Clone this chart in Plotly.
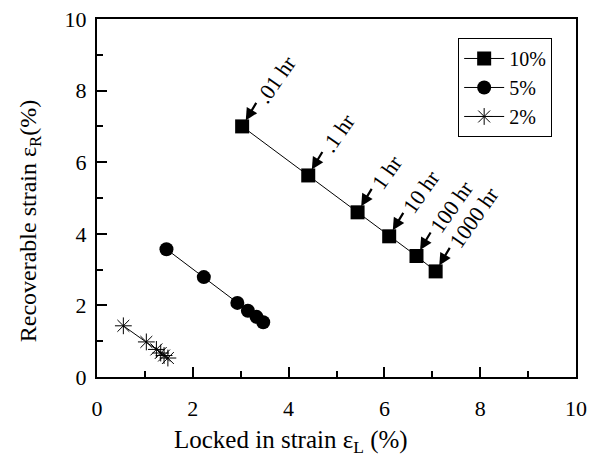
import plotly.graph_objects as go

# 10% series (squares)
x10 = [3.03, 4.41, 5.44, 6.10, 6.67, 7.07]
y10 = [7.00, 5.63, 4.60, 3.93, 3.38, 2.95]
time_labels = [".01 hr", ".1 hr", "1 hr", "10 hr", "100 hr", "1000 hr"]
# 5% series (circles)
x5 = [1.45, 2.23, 2.93, 3.15, 3.33, 3.47]
y5 = [3.57, 2.79, 2.07, 1.85, 1.68, 1.53]
# 2% series (stars)
x2 = [0.55, 1.03, 1.24, 1.33, 1.40, 1.48]
y2 = [1.43, 0.98, 0.77, 0.67, 0.60, 0.53]

x_title = "Locked in strain ε<sub>L</sub> (%)"
y_title = "Recoverable strain ε<sub>R</sub>(%)"

FONT = "Liberation Serif, Times New Roman, serif"
ANN_SIZE = 22
CHAR_EM = {".": 0.25, "0": 0.5, "1": 0.5, " ": 0.25, "h": 0.5, "r": 0.333}

fig = go.Figure()
fig.add_trace(go.Scatter(x=x10, y=y10, mode="lines+markers", name="10%",
                         line=dict(color="black", width=1),
                         marker=dict(symbol="square", size=14, color="black")))
fig.add_trace(go.Scatter(x=x5, y=y5, mode="lines+markers", name="5%",
                         line=dict(color="black", width=1),
                         marker=dict(symbol="circle", size=14, color="black")))
fig.add_trace(go.Scatter(x=x2, y=y2, mode="lines+markers", name="2%",
                         line=dict(color="black", width=1),
                         marker=dict(symbol="asterisk-open", size=14, color="black",
                                     line=dict(color="black", width=1))))

for xv, yv, lab in zip(x10, y10, time_labels):
    fig.add_annotation(x=xv, y=yv, xref="x", yref="y", text="",
                       showarrow=True, arrowhead=2, arrowsize=1.1, arrowwidth=2.2,
                       arrowcolor="black", ax=15, ay=-25, standoff=7)
    L = sum(CHAR_EM.get(c, 0.5) for c in lab) * ANN_SIZE
    fig.add_annotation(x=xv, y=yv, xref="x", yref="y", text=lab,
                       showarrow=False, textangle=-55, xanchor="center", yanchor="middle",
                       xshift=19 + 0.287 * L, yshift=26 + 0.41 * L,
                       font=dict(family=FONT, size=ANN_SIZE, color="black"))

# axis titles as annotations (offset along the axis, as in the reference)
fig.add_annotation(x=0.405, y=0, xref="paper", yref="paper", yshift=-64,
                   text=x_title, showarrow=False, xanchor="center", yanchor="middle",
                   font=dict(family=FONT, size=25, color="black"))
fig.add_annotation(x=0, y=0.435, xref="paper", yref="paper", xshift=-67,
                   text=y_title, showarrow=False, textangle=-90,
                   xanchor="center", yanchor="middle",
                   font=dict(family=FONT, size=24, color="black"))

axis_common = dict(showline=True, linewidth=2, linecolor="black", mirror=True,
                   ticks="inside", ticklen=10, tickwidth=2, tickcolor="black",
                   showgrid=False, zeroline=False, range=[0, 10], dtick=2, tick0=0,
                   automargin=False, ticklabeloverflow="allow",
                   tickfont=dict(family=FONT, size=22, color="black"),
                   minor=dict(ticks="inside", ticklen=6, tickwidth=2, tickcolor="black", dtick=1, showgrid=False))

fig.update_xaxes(**axis_common, ticklabelstandoff=11)
fig.update_yaxes(**axis_common, ticklabelstandoff=4)

# page body has an 8px default margin, so the figure is sized/offset to compensate
fig.update_layout(
    width=587, height=453,
    margin=dict(l=89, r=19, t=11, b=84),
    paper_bgcolor="white", plot_bgcolor="white",
    showlegend=True,
    legend=dict(x=0.754, y=0.947, xanchor="left", yanchor="top",
                bordercolor="black", borderwidth=1, bgcolor="white",
                font=dict(family=FONT, size=20, color="black"),
                itemwidth=40, tracegroupgap=0),
    font=dict(family=FONT, color="black"),
)

fig.write_html("out.html")
